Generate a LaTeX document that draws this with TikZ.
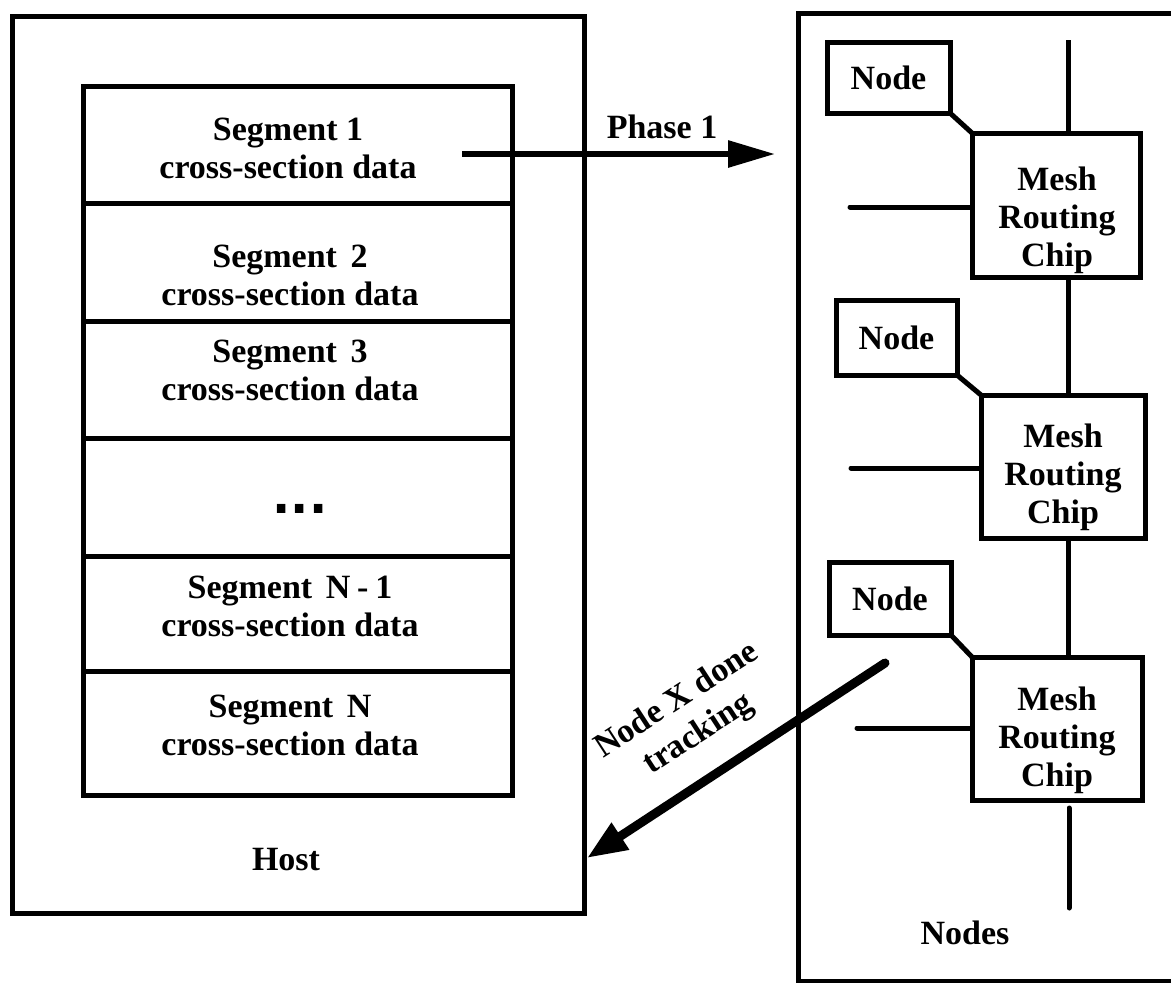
\documentclass[tikz,border=0pt]{standalone}
\usepackage{fontspec}
\setmainfont{Liberation Serif}
\newfontfamily\dotfont{DejaVu Sans}
\usetikzlibrary{arrows.meta}
\begin{document}
\begin{tikzpicture}[x=1pt,y=-1pt,
  box/.style={draw, line width=5pt, rectangle, inner sep=0pt, outer sep=0pt},
  txt/.style={font=\fontsize{34}{38}\selectfont\bfseries, align=center, inner sep=0pt},
  wire/.style={line width=5pt},
  bigarrow/.style={line width=6pt, -{Triangle[length=47pt,width=26pt]}},
  backarrow/.style={line width=9pt, -{Triangle[length=40pt,width=30pt]}}
]
\useasboundingbox (0,0) rectangle (1171,983);
\clip (0,0) rectangle (1171,983);
\fill[white] (0,0) rectangle (1171,983);

% Host
\node[box, minimum width=572pt, minimum height=897pt] (host) at (298,464.5) {};
\node[box, minimum width=429pt, minimum height=117pt] (seg1) at (297.5,144.5) {};
\node[box, minimum width=429pt, minimum height=118pt] (seg2) at (297.5,262) {};
\node[box, minimum width=429pt, minimum height=117pt] (seg3) at (297.5,379.5) {};
\node[box, minimum width=429pt, minimum height=118pt] (seg4) at (297.5,497) {};
\node[box, minimum width=429pt, minimum height=115pt] (seg5) at (297.5,613.5) {};
\node[box, minimum width=429pt, minimum height=124pt] (seg6) at (297.5,733) {};

\node[txt] (t1) at (288,148) {Segment 1\\cross-section data};
\node[txt] (t2) at (290,275) {Segment\hspace{0.4em}2\\cross-section data};
\node[txt] (t3) at (290,370) {Segment\hspace{0.4em}3\\cross-section data};
\node[inner sep=0pt, font=\dotfont\bfseries\fontsize{48}{50}\selectfont] (t4) at (300,509) {...};
\node[txt] (t5) at (290,606) {Segment\hspace{0.4em}N\hspace{0.2em}-\hspace{0.2em}1\\cross-section data};
\node[txt] (t6) at (290,725) {Segment\hspace{0.4em}N\\cross-section data};
\node[txt] (hostlbl) at (286,860) {Host};

% Nodes region
\node[box, minimum width=392pt, minimum height=968pt] (nodes) at (994,497) {};
\node[txt] (nodeslbl) at (965,933) {Nodes};

\node[box, minimum width=123pt, minimum height=71pt, txt] (n1) at (888.5,77.5) {Node};
\node[box, minimum width=121pt, minimum height=75pt, txt] (n2) at (896.5,337.5) {Node};
\node[box, minimum width=122pt, minimum height=73pt, txt] (n3) at (890,598.5) {Node};

\node[box, minimum width=168pt, minimum height=144pt] (c1) at (1056,205) {};
\node[box, minimum width=164pt, minimum height=143pt] (c2) at (1063,466.5) {};
\node[box, minimum width=170pt, minimum height=143pt] (c3) at (1057,728.5) {};
\node[txt] (c1t) at (1057,220) {Mesh\\Routing\\Chip};
\node[txt] (c2t) at (1063,477) {Mesh\\Routing\\Chip};
\node[txt] (c3t) at (1057,740) {Mesh\\Routing\\Chip};

% bus
\coordinate (bt) at (1068,40);
\coordinate (bb1) at (1069,808);
\coordinate (bb2) at (1069,908);
\draw[wire] (bt) -- (c1.north -| bt);
\draw[wire] (c1.south -| bt) -- (c2.north -| bt);
\draw[wire] (c2.south -| bt) -- (c3.north -| bt);
\draw[wire, line cap=round] (bb1) -- (bb2);

% stubs
\coordinate (s1) at (850,207);
\coordinate (s2) at (851,468);
\coordinate (s3) at (857,728);
\draw[wire, line cap=round] (s1) -- (s1 -| c1.west);
\draw[wire, line cap=round] (s2) -- (s2 -| c2.west);
\draw[wire, line cap=round] (s3) -- (s3 -| c3.west);

% node to chip
\draw[wire] (n1.south east) -- (c1.north west);
\draw[wire] (n2.south east) -- (c2.north west);
\draw[wire] (n3.south east) -- (c3.north west);

% Phase 1
\coordinate (p1a) at (462,154);
\coordinate (p1b) at (775,154);
\draw[bigarrow] (p1a) -- (p1b);
\node[txt] (ph1) at (662,127) {Phase 1};

% done tracking
\coordinate (da) at (885,663);
\coordinate (dtip) at (587,858);
\draw[backarrow, line cap=round] (da) -- (dtip);
\node[txt, font=\fontsize{34}{40}\selectfont\bfseries, rotate=33] (dl) at (688,718) {Node X done\\tracking};
\end{tikzpicture}
\end{document}
